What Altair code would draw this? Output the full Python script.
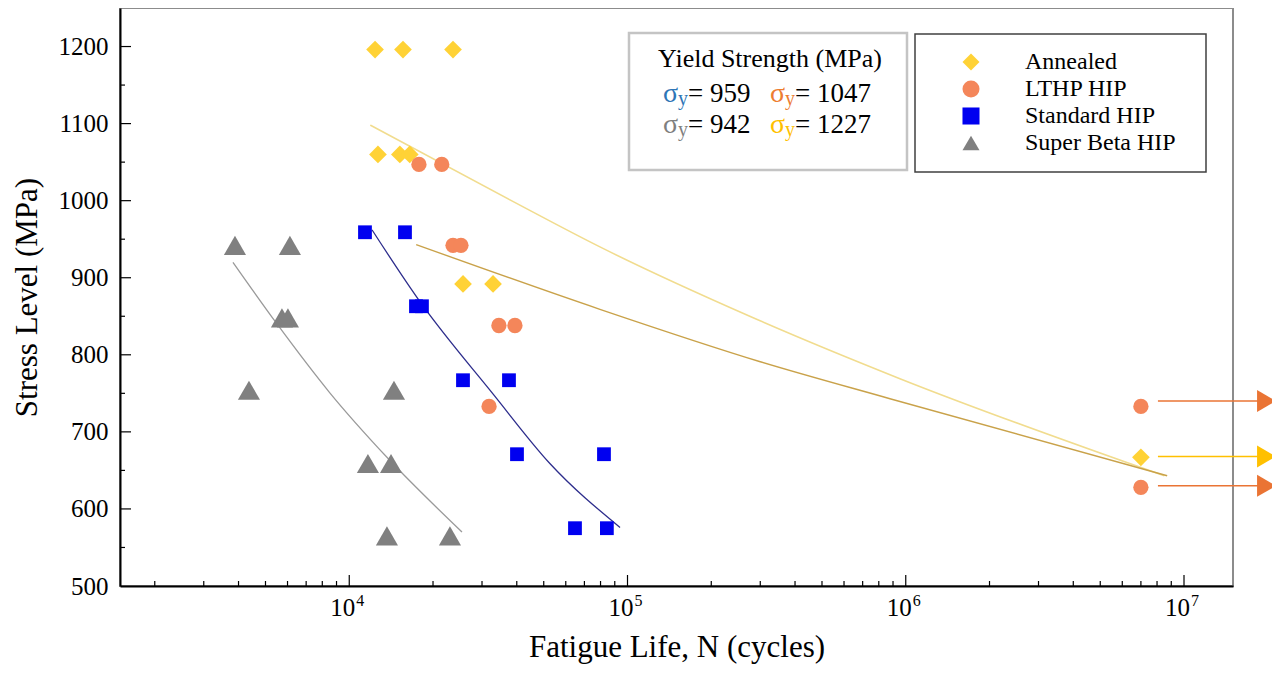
import altair as alt
import pandas as pd

FONT = "Liberation Serif"

# ---------------- data ----------------
series_names = ["Annealed", "LTHP HIP", "Standard HIP", "Super Beta HIP"]
series_colors = ["#ffd236", "#f4865a", "#0000f0", "#808080"]
series_shapes = ["diamond", "circle", "square", "triangle-up"]
series_sizes = [313, 234, 190, 490]

annealed_N = [12380, 15600, 23600, 12680, 15200, 16500, 25640, 32870, 7.0e6]
annealed_S = [1196, 1196, 1196, 1060, 1060, 1060, 892, 892, 667]
lthp_N = [17800, 21500, 23600, 25200, 34500, 39400, 31800, 7.0e6, 7.0e6]
lthp_S = [1047, 1047, 942, 942, 838, 838, 733, 733, 628]
standard_N = [11390, 15860, 17370, 18250, 25630, 37500, 40070, 82310, 64750, 84300]
standard_S = [959, 959, 863, 863, 767, 767, 671, 671, 575, 575]
superbeta_N = [3884, 6120, 5730, 6020, 4361, 14480, 11670, 14130, 13660, 23010]
superbeta_S = [942, 942, 848, 848, 754, 754, 659, 659, 565, 565]

# fitted trend curves
fit_annealed_N = [11900, 37800, 79600, 275000, 953000, 8.5e6]
fit_annealed_S = [1098, 1001, 940, 850, 769, 643]
fit_lthp_N = [17400, 79600, 300000, 877700, 8.7e6]
fit_lthp_S = [943, 859, 791, 743, 643]
fit_standard_N = [12080, 17950, 32900, 52600, 94000]
fit_standard_S = [962, 869, 749, 659, 576]
fit_superbeta_N = [3820, 5500, 8500, 13660, 25420]
fit_superbeta_S = [920, 840, 751, 667, 570]

# run-out arrows
runout_orange_S = [740, 630]
runout_yellow_S = [668]
runout_start_N = 8.06e6
runout_end_N = 1.92e7
runout_head_N = 1.98e7

# axes
x_label_values = [1e4, 1e5, 1e6, 1e7]
x_label_exponents = ["4", "5", "6", "7"]
x_minor_mantissa = [2, 3, 4, 5, 6, 7, 8, 9]
x_minor_decades = [1e3, 1e4, 1e5, 1e6]
y_label_values = [500, 600, 700, 800, 900, 1000, 1100, 1200]
y_major_ticks = [600, 700, 800, 900, 1000, 1100, 1200]
y_minor_ticks = [550, 650, 750, 850, 950, 1050, 1150]

# yield strength annotation
yield_title = "Yield Strength (MPa)"
yield_values = ["959", "1047", "942", "1227"]
yield_colors = ["#2e75b6", "#ed7d31", "#7f7f7f", "#ffc000"]

# ---------------- chart ----------------
W, H = 1113, 578
x_scale = alt.Scale(type="log", domain=[1500, 1.5e7], nice=False)
y_scale = alt.Scale(domain=[500, 1250], nice=False, zero=False)

rows = []
for name, size, Ns, Ss in [("Annealed", series_sizes[0], annealed_N, annealed_S),
                           ("LTHP HIP", series_sizes[1], lthp_N, lthp_S),
                           ("Standard HIP", series_sizes[2], standard_N, standard_S),
                           ("Super Beta HIP", series_sizes[3], superbeta_N, superbeta_S)]:
    for n, s in zip(Ns, Ss):
        rows.append({"series": name, "N": n, "S": s, "sz": size})
pts = pd.DataFrame(rows)

one = pd.DataFrame({"a": [0]})

leg = alt.Legend(title=None, orient="none", legendX=839, legendY=42,
                 labelFont=FONT, labelFontSize=24, labelColor="black",
                 symbolSize=290, symbolStrokeWidth=0, labelOffset=42,
                 rowPadding=3, padding=0)

points = alt.Chart(pts).mark_point(filled=True, opacity=1, strokeWidth=0).encode(
    x=alt.X("N:Q", scale=x_scale, axis=alt.Axis(
        title="Fatigue Life, N (cycles)", labels=False, ticks=False, grid=False,
        domainColor="black", domainWidth=2,
        titleX=W / 2, titleY=70, titleBaseline="alphabetic", titleAlign="center",
        titleFont=FONT, titleFontSize=31, titleFontWeight="normal", titleColor="black")),
    y=alt.Y("S:Q", scale=y_scale, axis=alt.Axis(
        title="Stress Level (MPa)", values=y_label_values, ticks=False, grid=False, format="d",
        labelFont=FONT, labelFontSize=25, labelColor="black", labelPadding=12,
        domainColor="black", domainWidth=2,
        titleX=-77, titleY=H / 2, titleAngle=-90, titleBaseline="bottom", titleAlign="center",
        titleFont=FONT, titleFontSize=31, titleFontWeight="normal", titleColor="black")),
    color=alt.Color("series:N", scale=alt.Scale(domain=series_names, range=series_colors), legend=leg),
    shape=alt.Shape("series:N", scale=alt.Scale(domain=series_names, range=series_shapes), legend=leg),
    size=alt.Size("sz:Q", scale=None),
)


def fit_layer(Ns, Ss, color, width):
    df = pd.DataFrame({"N": Ns, "S": Ss})
    return alt.Chart(df).mark_line(color=color, strokeWidth=width, interpolate="monotone").encode(
        x=alt.X("N:Q", scale=x_scale), y=alt.Y("S:Q", scale=y_scale))


fits = [
    fit_layer(fit_annealed_N, fit_annealed_S, "#f1dc8e", 1.6),
    fit_layer(fit_lthp_N, fit_lthp_S, "#c9a24a", 1.4),
    fit_layer(fit_standard_N, fit_standard_S, "#2d2d8c", 1.3),
    fit_layer(fit_superbeta_N, fit_superbeta_S, "#9a9a9a", 1.3),
]


def arrow_layers(Ss, color):
    df = pd.DataFrame({"S": Ss, "N0": [runout_start_N] * len(Ss),
                       "N1": [runout_end_N] * len(Ss), "Nh": [runout_head_N] * len(Ss)})
    shaft = alt.Chart(df).mark_rule(color=color, strokeWidth=1.5).encode(
        x=alt.X("N0:Q", scale=x_scale), x2="N1:Q", y=alt.Y("S:Q", scale=y_scale))
    head = alt.Chart(df).mark_point(shape="triangle-right", filled=True, size=480,
                                    color=color, opacity=1, strokeWidth=0).encode(
        x=alt.X("Nh:Q", scale=x_scale), y=alt.Y("S:Q", scale=y_scale))
    return [shaft, head]


arrows = arrow_layers(runout_orange_S, "#ea7434") + arrow_layers(runout_yellow_S, "#ffc000")

# ticks (inward)
x_minor = [m * d for d in x_minor_decades for m in x_minor_mantissa]
xt_major = alt.Chart(pd.DataFrame({"N": x_label_values})).mark_rule(color="black", strokeWidth=1.2).encode(
    x=alt.X("N:Q", scale=x_scale), y=alt.value(H), y2=alt.value(H - 11))
xt_minor = alt.Chart(pd.DataFrame({"N": x_minor})).mark_rule(color="black", strokeWidth=1.2).encode(
    x=alt.X("N:Q", scale=x_scale), y=alt.value(H), y2=alt.value(H - 5))
yt_major = alt.Chart(pd.DataFrame({"S": y_major_ticks})).mark_rule(color="black", strokeWidth=1.2).encode(
    y=alt.Y("S:Q", scale=y_scale), x=alt.value(0), x2=alt.value(11))
yt_minor = alt.Chart(pd.DataFrame({"S": y_minor_ticks})).mark_rule(color="black", strokeWidth=1.2).encode(
    y=alt.Y("S:Q", scale=y_scale), x=alt.value(0), x2=alt.value(5))

# x tick labels 10^n
xl_df = pd.DataFrame({"N": x_label_values, "base": ["10"] * 4, "exp": x_label_exponents})
xl_base = alt.Chart(xl_df).mark_text(font=FONT, fontSize=25, color="black", align="right",
                                     baseline="alphabetic", dx=6).encode(
    x=alt.X("N:Q", scale=x_scale), y=alt.value(H + 30), text="base:N")
xl_exp = alt.Chart(xl_df).mark_text(font=FONT, fontSize=16, color="black", align="left",
                                    baseline="alphabetic", dx=7).encode(
    x=alt.X("N:Q", scale=x_scale), y=alt.value(H + 20), text="exp:N")


def box(x1, y1, x2, y2, stroke, sw):
    return alt.Chart(one).mark_rect(fill="white", stroke=stroke, strokeWidth=sw).encode(
        x=alt.value(x1), x2=alt.value(x2), y=alt.value(y1), y2=alt.value(y2))


def txt(t, x, y, size, color, align="left"):
    return alt.Chart(one).mark_text(font=FONT, fontSize=size, color=color, align=align,
                                    baseline="alphabetic").encode(
        x=alt.value(x), y=alt.value(y), text=alt.value(t))


boxes = [box(509, 25, 787, 162, "#c4c4c4", 2.5), box(795, 26, 1086, 164, "#404040", 1.5)]

ann = [txt(yield_title, 650, 59, 26, "black", "center")]
col_x = [543, 650, 543, 650]
row_y = [94, 94, 125, 125]
for v, c, cx, ry in zip(yield_values, yield_colors, col_x, row_y):
    ann.append(txt("σ", cx, ry, 28, c))
    ann.append(txt("y", cx + 15, ry + 3, 20, c))
    ann.append(txt("= " + v, cx + 25, ry, 27, "black"))

chart = alt.layer(
    *boxes, *fits, *arrows, xt_major, xt_minor, yt_major, yt_minor, points, xl_base, xl_exp, *ann
).properties(
    width=W, height=H,
    autosize=alt.AutoSizeParams(type="none"),
    padding={"left": 112, "top": 0, "right": 39, "bottom": 79},
    background="white",
).configure_view(
    stroke="#8c8c8c", strokeWidth=2
).configure_axis(
    labelFont=FONT, titleFont=FONT, labelColor="black", titleColor="black"
).configure_legend(
    labelFont=FONT
)

chart.save("out.html", embed_options={"renderer": "svg", "actions": False})
